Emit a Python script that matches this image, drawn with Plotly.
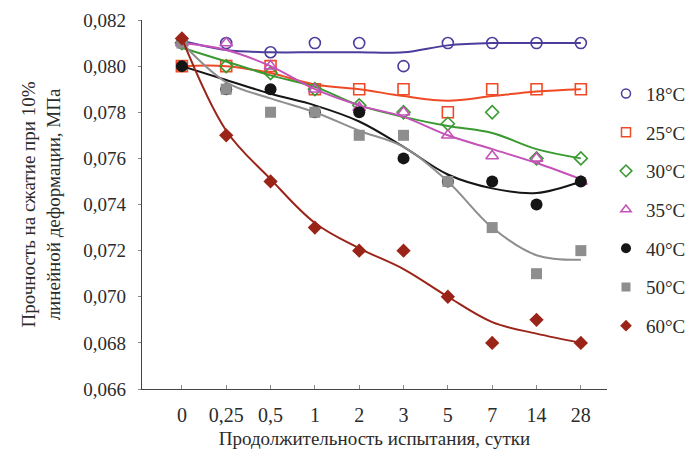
import plotly.graph_objects as go

# Test duration, days (categorical axis)
days = ["0", "0,25", "0,5", "1", "2", "3", "5", "7", "14", "28"]

temps = ["18°C", "25°C", "30°C", "35°C", "40°C", "50°C", "60°C"]

# Measured compressive strength at 10% linear strain, MPa
s18 = [0.0810, 0.0810, 0.0806, 0.0810, 0.0810, 0.0800, 0.0810, 0.0810, 0.0810, 0.0810]
s25 = [0.0800, 0.0800, 0.0800, 0.0790, 0.0790, 0.0790, 0.0780, 0.0790, 0.0790, 0.0790]
s30 = [0.0810, 0.0800, 0.0797, 0.0790, 0.0783, 0.0780, 0.0775, 0.0780, 0.0760, 0.0760]
s35 = [0.0810, 0.0810, 0.0800, 0.0790, 0.0782, 0.0780, 0.0770, 0.0761, 0.0760, 0.0750]
s40 = [0.0800, 0.0790, 0.0790, 0.0780, 0.0780, 0.0760, 0.0750, 0.0750, 0.0740, 0.0750]
s50 = [0.0810, 0.0790, 0.0780, 0.0780, 0.0770, 0.0770, 0.0750, 0.0730, 0.0710, 0.0720]
s60 = [0.0812, 0.0770, 0.0750, 0.0730, 0.0720, 0.0720, 0.0700, 0.0680, 0.0690, 0.0680]

# Smoothed trend values for each temperature
t18 = [0.0811, 0.0807, 0.0806, 0.0806, 0.0806, 0.0806, 0.0809, 0.0810, 0.0810, 0.0810]
t25 = [0.0800, 0.0800, 0.0797, 0.0792, 0.0790, 0.0787, 0.0785, 0.0787, 0.0789, 0.0790]
t30 = [0.0808, 0.0802, 0.0796, 0.0791, 0.0783, 0.0778, 0.0774, 0.0771, 0.0764, 0.0760]
t35 = [0.0810, 0.0807, 0.0800, 0.0790, 0.0783, 0.0778, 0.0770, 0.0764, 0.0758, 0.0751]
t40 = [0.0800, 0.0794, 0.0788, 0.0783, 0.0776, 0.0765, 0.0753, 0.0747, 0.0745, 0.0750]
t50 = [0.0810, 0.0793, 0.0786, 0.0780, 0.0772, 0.0765, 0.0750, 0.0730, 0.0718, 0.0716]
t60 = [0.0812, 0.0772, 0.0751, 0.0732, 0.0721, 0.0712, 0.0700, 0.0689, 0.0684, 0.0680]

y_ticks = [0.066, 0.068, 0.070, 0.072, 0.074, 0.076, 0.078, 0.080, 0.082]

colors = ["#4a3d9c", "#ef4a26", "#3a9a32", "#c452b8", "#151515", "#8e8e8e", "#9b2419"]
symbols = ["circle-open", "square-open", "diamond-open", "triangle-up-open",
           "circle", "square", "diamond"]
sizes = [11, 11, 10, 11, 12, 11, 11]
legend_sizes = [9, 9, 9, 9, 10, 9, 9]

measured = [s18, s25, s30, s35, s40, s50, s60]
trends = [t18, t25, t30, t35, t40, t50, t60]

FONT = "Liberation Serif"
TEXT = "#2b2b2b"

fig = go.Figure()

for name, ys, tr, col, sym, sz in zip(temps, measured, trends, colors, symbols, sizes):
    lw = 1.6 if "open" in sym else 0
    fig.add_trace(go.Scatter(
        x=days, y=tr, mode="lines",
        line=dict(color=col, width=2, shape="spline", smoothing=1.0),
        showlegend=False, hoverinfo="skip",
    ))
    fig.add_trace(go.Scatter(
        x=days, y=ys, mode="markers", name=name, showlegend=False,
        marker=dict(symbol=sym, size=sz, color=col, line=dict(color=col, width=lw)),
    ))

# Legend entries with slightly smaller symbols
for i, (name, col, sym, sz) in enumerate(zip(temps, colors, symbols, legend_sizes)):
    lw = 1.5 if "open" in sym else 0
    fig.add_trace(go.Scatter(
        x=[None], y=[None], mode="markers", name=name, legendgroup=f"g{i}",
        marker=dict(symbol=sym, size=sz, color=col, line=dict(color=col, width=lw)),
    ))

# Plot area 465 px wide inside a 552 px paper; legend sits in the free strip
PAPER_W = 694 - 142
X_END = 465 / PAPER_W

fig.update_layout(
    width=694, height=457,
    margin=dict(l=142, r=0, t=20, b=68, autoexpand=False),
    paper_bgcolor="white", plot_bgcolor="white",
    font=dict(family=FONT, size=19, color=TEXT),
    separators=", ",
    legend=dict(
        x=(606 - 142) / PAPER_W, xanchor="left", y=0.852, yanchor="top",
        font=dict(family=FONT, size=19, color=TEXT),
        tracegroupgap=11, itemwidth=30, bgcolor="rgba(0,0,0,0)",
    ),
    xaxis=dict(
        domain=[0, X_END],
        type="category", categoryorder="array", categoryarray=days,
        range=[-0.9, 9.59],
        showline=True, linecolor="#444", linewidth=1.3,
        ticks="inside", ticklen=4, tickcolor="#888", tickwidth=1,
        showgrid=False, zeroline=False,
        tickfont=dict(family=FONT, size=20),
        ticklabelstandoff=8,
        title=dict(text="Продолжительность испытания, сутки",
                   font=dict(family=FONT, size=19), standoff=6),
    ),
    yaxis=dict(
        range=[0.066, 0.082], tickvals=y_ticks, tickformat=".3f",
        showline=True, linecolor="#444", linewidth=1.3,
        ticks="outside", ticklen=3, tickcolor="#888",
        showgrid=False, zeroline=False,
        tickfont=dict(family=FONT, size=19),
        ticklabelstandoff=8,
        title=dict(text="Прочность на сжатие при 10%<br>линейной деформации, МПа",
                   font=dict(family=FONT, size=19), standoff=17),
    ),
)

fig.write_html("out.html")
